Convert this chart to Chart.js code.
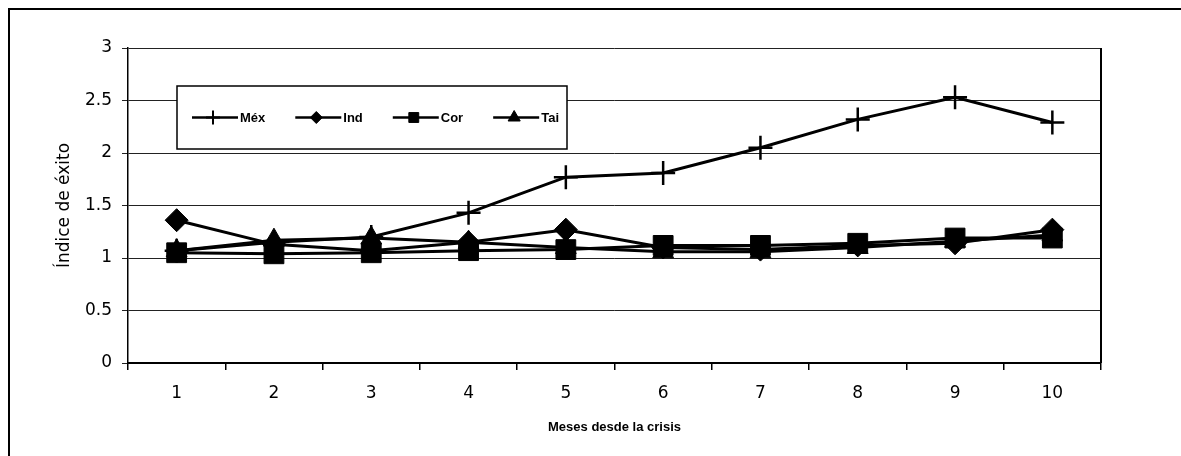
<!DOCTYPE html>
<html>
<head>
<meta charset="utf-8">
<script src="https://cdn.jsdelivr.net/npm/chart.js@4/dist/chart.umd.min.js"></script>
<style>
  html, body { margin: 0; padding: 0; background: #fff; }
  #wrap { width: 1181px; height: 456px; }
</style>
</head>
<body>
<div id="wrap"><canvas id="c" width="1181" height="456"></canvas></div>
<script>
// Months since the crisis
const categories = ['1', '2', '3', '4', '5', '6', '7', '8', '9', '10'];

// Success index per country
const mex = [1.07, 1.15, 1.20, 1.43, 1.77, 1.81, 2.05, 2.32, 2.53, 2.29];
const ind = [1.36, 1.13, 1.07, 1.15, 1.27, 1.10, 1.08, 1.12, 1.14, 1.27];
const cor = [1.05, 1.04, 1.05, 1.07, 1.08, 1.12, 1.12, 1.14, 1.19, 1.19];
const tai = [1.07, 1.17, 1.19, 1.15, 1.10, 1.06, 1.06, 1.10, 1.16, 1.22];

// Value axis ticks
const yTicks = [0, 0.5, 1, 1.5, 2, 2.5, 3];

const seriesNames = ['Méx', 'Ind', 'Cor', 'Tai'];

const TICK_FONT = { family: '"DejaVu Sans", sans-serif', size: 17 };

function series(label, data, pointStyle, radius, legendRadius) {
  return {
    label, data, pointStyle,
    legendRadius,
    borderColor: '#000',
    backgroundColor: '#000',
    borderWidth: 3,
    pointRadius: radius,
    pointHoverRadius: radius,
    pointBorderWidth: pointStyle === 'cross' ? 2.5 : 1,
    pointBorderColor: '#000',
    pointBackgroundColor: '#000',
    tension: 0,
    fill: false
  };
}

// Outer frame, right plot border and the boxed legend
const decorations = {
  id: 'decorations',
  afterDraw(chart) {
    const ctx = chart.ctx;
    const a = chart.chartArea;
    ctx.save();

    // page frame (top and left edges)
    ctx.strokeStyle = '#000';
    ctx.lineWidth = 2;
    ctx.beginPath();
    ctx.moveTo(9, chart.height);
    ctx.lineTo(9, 9);
    ctx.lineTo(chart.width, 9);
    ctx.stroke();

    // right edge of the plot area
    ctx.lineWidth = 2;
    ctx.beginPath();
    ctx.moveTo(a.right, a.top);
    ctx.lineTo(a.right, a.bottom);
    ctx.stroke();

    // legend box
    const bx = a.left + 49, by = a.top + 38, bw = 390, bh = 63;
    ctx.fillStyle = '#fff';
    ctx.fillRect(bx, by, bw, bh);
    ctx.lineWidth = 1.5;
    ctx.strokeRect(bx, by, bw, bh);

    ctx.font = 'bold 13px "Liberation Sans", Arial, sans-serif';
    ctx.textBaseline = 'middle';
    ctx.textAlign = 'left';
    const cy = by + bh / 2;
    let x = bx + 15;
    chart.data.datasets.forEach(ds => {
      ctx.strokeStyle = '#000';
      ctx.fillStyle = '#000';
      ctx.lineWidth = 2.5;
      ctx.beginPath();
      ctx.moveTo(x, cy);
      ctx.lineTo(x + 46, cy);
      ctx.stroke();
      ctx.lineWidth = ds.pointStyle === 'cross' ? 2 : 1;
      Chart.helpers.drawPoint(ctx, {
        pointStyle: ds.pointStyle,
        radius: ds.legendRadius,
        rotation: 0,
        borderWidth: ctx.lineWidth
      }, x + 21, cy);
      ctx.fillStyle = '#000';
      ctx.fillText(ds.label, x + 48, cy + 1);
      x += 48 + ctx.measureText(ds.label).width + 30;
    });

    ctx.restore();
  }
};

new Chart(document.getElementById('c'), {
  type: 'line',
  data: {
    labels: categories,
    datasets: [
      series(seriesNames[0], mex, 'cross', 12, 7),
      series(seriesNames[1], ind, 'rectRot', 11.5, 6),
      series(seriesNames[2], cor, 'rect', 14, 7),
      series(seriesNames[3], tai, 'triangle', 12, 7)
    ]
  },
  options: {
    responsive: false,
    devicePixelRatio: 1,
    animation: false,
    events: [],
    layout: { padding: { left: 0, top: 48, right: 80, bottom: 0 } },
    plugins: {
      legend: { display: false },
      tooltip: { enabled: false },
      title: { display: false }
    },
    scales: {
      x: {
        type: 'category',
        offset: true,
        afterFit(scale) { scale.height = 93; },
        border: { display: true, color: '#000', width: 2 },
        grid: {
          offset: true,
          drawOnChartArea: false,
          drawTicks: true,
          tickLength: 7,
          color: '#000',
          lineWidth: 1.5
        },
        ticks: {
          color: '#000',
          font: TICK_FONT,
          padding: 13,
          maxRotation: 0,
          autoSkip: false
        },
        title: {
          display: true,
          text: 'Meses desde la crisis',
          color: '#000',
          font: { family: '"Liberation Sans", Arial, sans-serif', size: 13, weight: 'bold' },
          padding: { top: 0, bottom: 21 }
        }
      },
      y: {
        min: yTicks[0],
        max: yTicks[yTicks.length - 1],
        afterFit(scale) { scale.width = 128; },
        afterBuildTicks(scale) { scale.ticks = yTicks.map(v => ({ value: v })); },
        border: { display: true, color: '#000', width: 1.5 },
        grid: {
          color: '#222',
          lineWidth: 1,
          tickLength: 6,
          drawTicks: true
        },
        ticks: {
          color: '#000',
          font: TICK_FONT,
          padding: 10,
          callback: v => String(v)
        },
        title: {
          display: true,
          text: 'Índice de éxito',
          color: '#000',
          font: { family: '"DejaVu Sans", sans-serif', size: 17 },
          padding: { top: 54, bottom: 0 }
        }
      }
    }
  },
  plugins: [decorations]
});
</script>
</body>
</html>
